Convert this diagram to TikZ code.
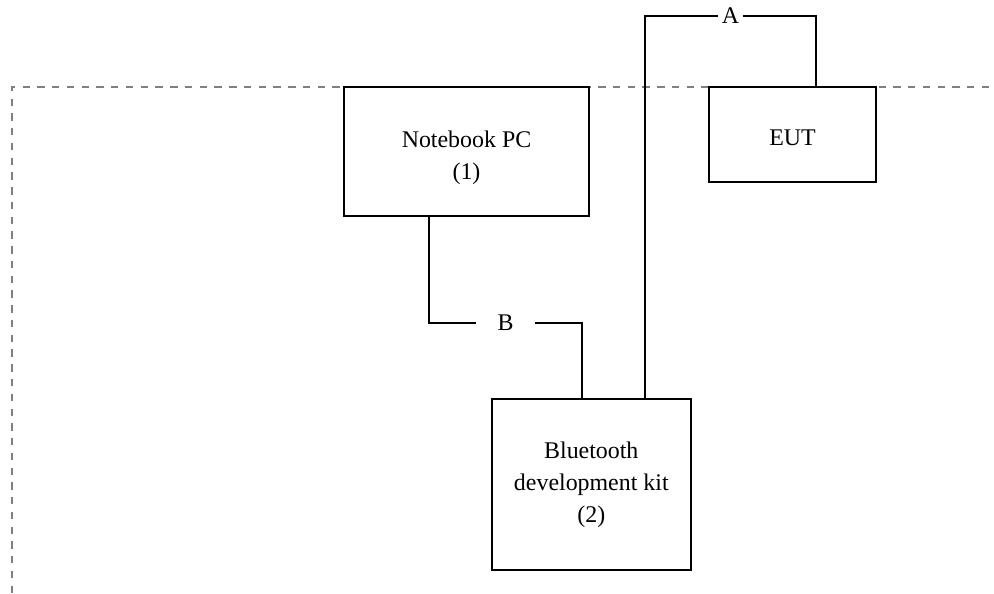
\documentclass[tikz,border=0pt]{standalone}
\usepackage{fontspec}
\setmainfont{Liberation Serif}
\usetikzlibrary{positioning}

\begin{document}
\begin{tikzpicture}[
      x=0.02cm, y=-0.02cm,
      mybox/.style={
         rectangle,
         draw=black,
         line width=1.1pt,
         align=center,
         inner sep=0pt,
         font=\fontsize{13.6}{18.2}\selectfont},
      mylabel/.style={
         fill=white,
         inner ysep=1pt,
         font=\fontsize{13.6}{18.2}\selectfont},
      mywire/.style={line width=1.1pt},
      myborder/.style={gray, line width=0.8pt, dash pattern=on 4.2pt off 4.2pt}
      ]
      \useasboundingbox (0,0) rectangle (994,593);
      % test site border
      \draw[myborder] (12,593) -- (12,87) -- (994,87);
      \node[mybox, minimum width=4.9cm, minimum height=2.58cm] (pc) at (466.5,151.5) {\rule{0pt}{0.59cm}Notebook PC\\(1)};
      \node[mybox, minimum width=3.34cm, minimum height=1.9cm] (eut) at (792.5,134.5) {\rule{0pt}{0.44cm}EUT};
      \node[mybox, minimum width=3.99cm, minimum height=3.42cm] (kit) at (591.3,484.5) {Bluetooth\\development kit\\(2)};
      \coordinate (a1) at (645,16);
      \coordinate (a2) at (816,16);
      \coordinate (b1) at (429,323);
      \coordinate (b2) at (582,323);
    \foreach \s/\a/\p/\q/\e/\txt/\sep in {
      kit/north/a1/a2/eut/A/2pt,
      pc/south/b1/b2/kit/B/12pt}
       \draw [mywire] (\s.\a -| \p) -- (\p) -- node[mylabel, inner xsep=\sep] {\txt} (\q) -- (\e.north -| \q);
\end{tikzpicture}
\end{document}
